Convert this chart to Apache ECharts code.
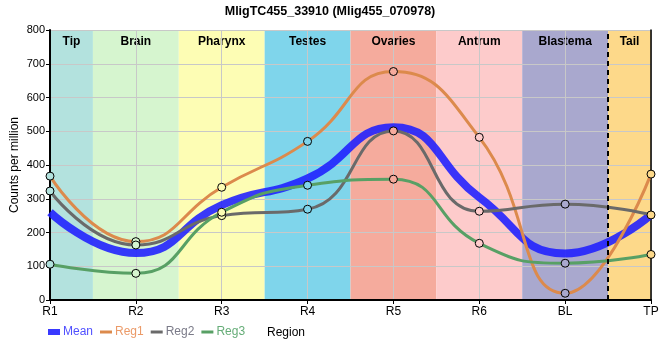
<!DOCTYPE html>
<html><head><meta charset="utf-8">
<script src="https://cdn.jsdelivr.net/npm/echarts@6/dist/echarts.min.js"></script>
<style>html,body{margin:0;padding:0;background:#fff}#c{width:660px;height:360px}</style>
</head><body><div id="c"></div>
<script>
var categories = ['R1','R2','R3','R4','R5','R6','BL','TP'];
var meanVals = [260, 139, 281, 360, 512, 304, 138, 253];
var reg1Vals = [367, 173, 334, 470, 677, 482, 20, 373];
var reg2Vals = [323, 163, 250, 269, 501, 263, 284, 252];
var reg3Vals = [106, 79, 260, 340, 358, 168, 109, 135];
var regionNames = ['Tip','Brain','Pharynx','Testes','Ovaries','Antrum','Blastema','Tail'];
var regionEdges = [0, 0.5, 1.5, 2.5, 3.5, 4.5, 5.5, 6.5, 7];
var regionColors = ['#b3e2de','#d6f5cf','#fdfdb4','#7fd5eb','#f5ab9d','#fdcbcb','#a9a8ce','#fdd98a'];
var tailBoundary = 6.5;
var yTicks = {min:0, max:800, interval:100};

var FONT = 'Liberation Sans';
var areas = regionNames.map(function(n,i){
  return [{xAxis: regionEdges[i], name: n, itemStyle:{color: regionColors[i]}}, {xAxis: regionEdges[i+1]}];
});
function markerFill(p){ return regionColors[p.dataIndex]; }
function regSeries(name, vals, color){
  return {
    name:name, type:'line', data:vals, smooth:0.5, showSymbol:true,
    lineStyle:{color:color, width:3}, z:3,
    symbol:'circle', symbolSize:8,
    itemStyle:{color:markerFill, borderColor:'#000', borderWidth:1},
    emphasis:{disabled:true}
  };
}
var lineIcon = 'path://M0,0L12,0L12,3L0,3Z';
var chart = echarts.init(document.getElementById('c'), null, {renderer:'canvas'});
chart.setOption({
  animation:false,
  backgroundColor:'#fff',
  textStyle:{fontFamily:FONT},
  title:[
    {text:'MligTC455_33910 (Mlig455_070978)', left:'center', top:0,
     textStyle:{fontFamily:FONT, fontSize:12.5, fontWeight:'bold', color:'#000'}},
    {text:'Region', left:262, top:322,
     textStyle:{fontFamily:FONT, fontSize:12, fontWeight:'normal', color:'#000'}}
  ],
  grid:{left:50, right:9, top:30, bottom:60, outerBoundsMode:'none', containLabel:false},
  legend:{top:321, left:43, itemGap:7, itemWidth:12, itemHeight:6, symbolKeepAspect:true,
    textStyle:{fontFamily:FONT, fontSize:12, padding:[0,0,0,-2]},
    data:[
      {name:'Mean', icon:'rect', itemStyle:{borderWidth:0}, textStyle:{color:'#5050ff'}},
      {name:'Reg1', icon:lineIcon, itemStyle:{color:'#dc8a4c', borderWidth:0}, textStyle:{color:'#eb9a68'}},
      {name:'Reg2', icon:lineIcon, itemStyle:{color:'#6a6a6a', borderWidth:0}, textStyle:{color:'#7a7a88'}},
      {name:'Reg3', icon:lineIcon, itemStyle:{color:'#58a065', borderWidth:0}, textStyle:{color:'#66ad78'}}
    ]},
  xAxis:[
    {type:'category', data:categories, boundaryGap:false,
     axisLine:{lineStyle:{color:'#000', width:2}},
     axisTick:{show:true, length:4, lineStyle:{color:'#000'}},
     axisLabel:{color:'#000', fontSize:12, fontFamily:FONT, margin:6},
     splitLine:{show:true, lineStyle:{color:'#c8c8c8'}}},
    {type:'value', min:0, max:7, position:'top', show:true,
     axisLine:{show:true, lineStyle:{color:'#000', width:1.5}},
     axisTick:{show:false}, axisLabel:{show:false}, splitLine:{show:false}}
  ],
  yAxis:[
    {type:'value', min:yTicks.min, max:yTicks.max, interval:yTicks.interval,
     name:'Counts per million', nameLocation:'middle', nameGap:29, nameMoveOverlap:false,
     nameTextStyle:{fontFamily:FONT, fontSize:12, color:'#000'},
     axisLine:{show:true, lineStyle:{color:'#000', width:2}},
     axisTick:{show:true, length:4, lineStyle:{color:'#000'}},
     axisLabel:{color:'#000', fontSize:11, fontFamily:FONT, margin:5},
     splitLine:{show:true, lineStyle:{color:'#c8c8c8'}}},
    {type:'value', min:yTicks.min, max:yTicks.max, interval:yTicks.interval, position:'right',
     axisLine:{show:true, lineStyle:{color:'#000', width:1.5}},
     axisTick:{show:false}, axisLabel:{show:false}, splitLine:{show:false}}
  ],
  series:[
    {name:'bands', type:'line', xAxisIndex:1, data:[], silent:true, z:-1,
     markArea:{silent:true, z:-1, data:areas,
       label:{show:true, position:'insideTop', distance:6, color:'#000', fontWeight:'bold', fontSize:12, fontFamily:FONT}},
     markLine:{silent:true, symbol:'none', label:{show:false}, z:10,
       lineStyle:{color:'#000', type:[5,4], width:2},
       data:[{xAxis: tailBoundary}]}},
    {name:'Mean', type:'line', data:meanVals, smooth:0.5, symbol:'none',
     lineStyle:{color:'rgba(30,30,255,0.88)', width:8}, itemStyle:{color:'rgba(30,30,255,0.88)'}, z:2},
    regSeries('Reg1', reg1Vals, '#dc8a4c'),
    regSeries('Reg2', reg2Vals, '#6a6a6a'),
    regSeries('Reg3', reg3Vals, '#58a065')
  ]
});
</script></body></html>
